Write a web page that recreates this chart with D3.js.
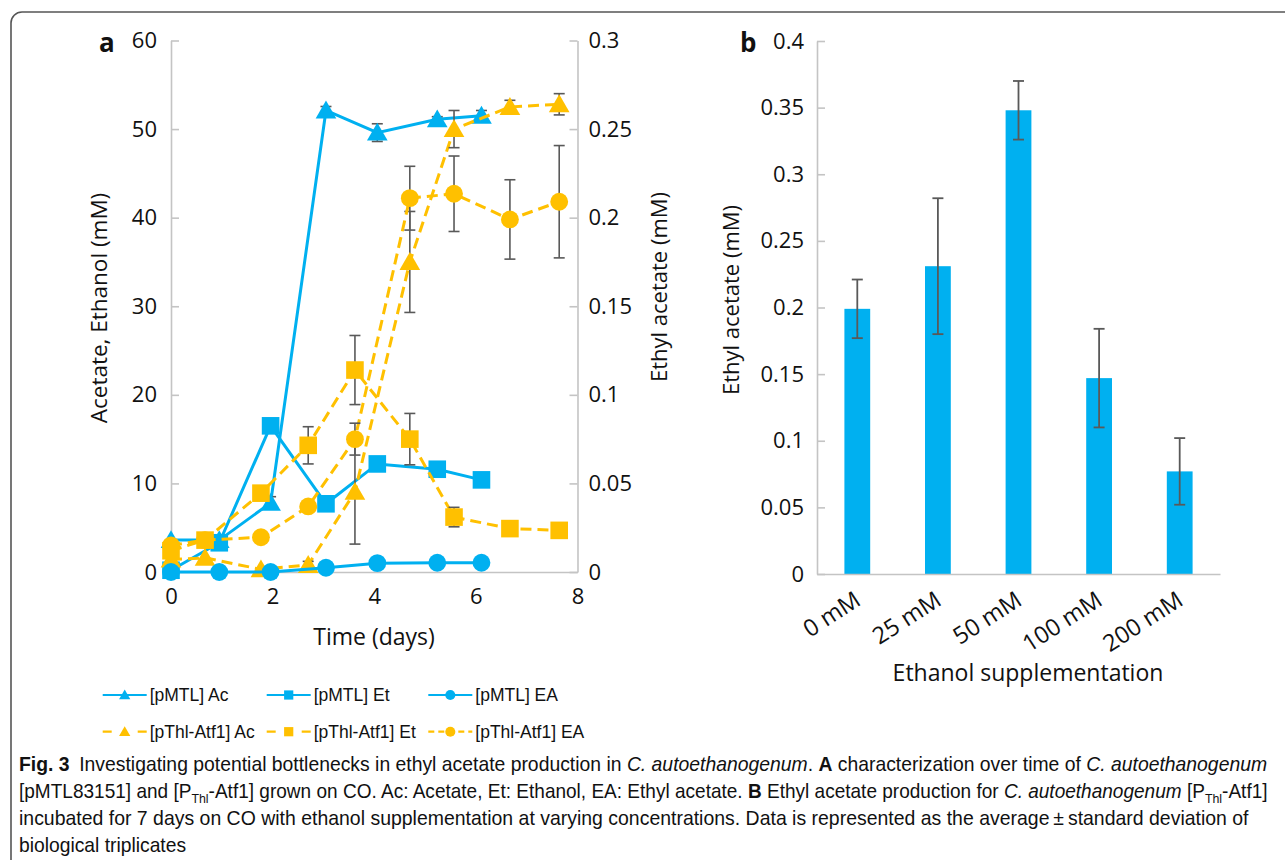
<!DOCTYPE html>
<html>
<head>
<meta charset="utf-8">
<script src="https://cdn.jsdelivr.net/npm/d3@7"></script>
<style>
  body { margin: 0; background: #fff; }
  svg { display: block; }
  text { fill: #111; }
</style>
</head>
<body>
<svg id="fig" width="1285" height="860" font-family="'Open Sans', sans-serif"></svg>
<script>
// panel a: time course, days on x
let pmtlDays = [0, 0.95, 1.96, 3.05, 4.06, 5.24, 6.11]
let pmtlAc = [3.6, 3.6, 7.8, 52.1, 49.6, 51.1, 51.5]
let pmtlAcErr = [0, 0, 0.7, 0.45, 1.0, 0.3, 0.6]
let pmtlEt = [0.2, 3.3, 16.5, 7.7, 12.2, 11.6, 10.4]
let pmtlEtErr = [0, 0, 0, 0, 0, 0, 0]
let pmtlEA = [0, 0, 0, 0.0024, 0.005, 0.0052, 0.0052]
let pmtlEAErr = [0, 0, 0, 0, 0, 0, 0]

let pthlDays = [0, 0.67, 1.77, 2.7, 3.62, 4.7, 5.57, 6.67, 7.64]
let pthlAc = [1.4, 1.6, 0.3, 0.8, 9.05, 35.0, 50.0, 52.5, 52.8]
let pthlAcErr = [0, 0, 0, 0.4, 5.9, 5.7, 2.1, 0.75, 1.2]
let pthlEt = [2.4, 3.6, 8.9, 14.3, 22.8, 15.0, 6.2, 4.9, 4.7]
let pthlEtErr = [0, 0, 0.5, 2.1, 3.9, 2.9, 1.1, 0, 0]
let pthlEA = [0.015, 0.018, 0.0196, 0.037, 0.075, 0.211, 0.2135, 0.199, 0.209]
let pthlEAErr = [0, 0, 0, 0, 0.009, 0.018, 0.0213, 0.0224, 0.0317]

let leftTicks = [0, 10, 20, 30, 40, 50, 60]
let rightTicks = [0, 0.05, 0.1, 0.15, 0.2, 0.25, 0.3]
let dayTicks = [0, 2, 4, 6, 8]

let legendLabels = ['[pMTL] Ac', '[pMTL] Et', '[pMTL] EA', '[pThl-Atf1] Ac', '[pThl-Atf1] Et', '[pThl-Atf1] EA']

// panel b: bars
let concentrations = ['0 mM', '25 mM', '50 mM', '100 mM', '200 mM']
let eaMean = [0.199, 0.231, 0.348, 0.147, 0.077]
let eaSd = [0.022, 0.051, 0.022, 0.037, 0.025]
let barTicks = [0, 0.05, 0.1, 0.15, 0.2, 0.25, 0.3, 0.35, 0.4]

let blue = '#00B0F0'
let yellow = '#FFC000'
let errGrey = '#595959'
let axisGrey = '#C4C4C4'

var svg = d3.select('#fig')

// figure frame
svg
  .append('rect')
  .attr('x', 11)
  .attr('y', 12)
  .attr('width', 1320)
  .attr('height', 900)
  .attr('rx', 11)
  .attr('fill', 'none')
  .attr('stroke', '#555')
  .attr('stroke-width', 1.6)

let xA = d3.scaleLinear().domain([0, 8]).range([171, 577.5])
let yL = d3.scaleLinear().domain([0, 60]).range([572, 40.5])
let yR = d3.scaleLinear().domain([0, 0.3]).range([572, 40.5])

let fmt = d => String(+d.toFixed(2))

function styleAxis(g, size) {
  g.select('.domain').attr('stroke', axisGrey).attr('stroke-width', 1.6)
  g.selectAll('.tick line').attr('stroke', axisGrey).attr('stroke-width', 1.6)
  g.selectAll('.tick text')
    .attr('font-size', size)
    .attr('font-family', "'Open Sans', sans-serif")
}

svg
  .append('g')
  .attr('transform', 'translate(171,0)')
  .call(d3.axisLeft(yL).tickValues(leftTicks).tickSizeInner(-8).tickSizeOuter(0).tickPadding(14))
  .call(g => styleAxis(g, 22))

svg
  .append('g')
  .attr('transform', 'translate(577.5,0)')
  .call(d3.axisRight(yR).tickValues(rightTicks).tickFormat(fmt).tickSizeInner(-8).tickSizeOuter(0).tickPadding(11))
  .call(g => styleAxis(g, 22))

svg
  .append('g')
  .attr('transform', 'translate(0,572)')
  .call(d3.axisBottom(xA).tickValues(dayTicks).tickSize(0).tickPadding(16))
  .call(g => styleAxis(g, 22))

// axis titles a
svg
  .append('text')
  .text('Time (days)')
  .attr('x', 374)
  .attr('y', 645)
  .attr('text-anchor', 'middle')
  .attr('font-size', 23)

svg
  .append('text')
  .text('Acetate, Ethanol (mM)')
  .attr('transform', 'translate(107,308) rotate(-90)')
  .attr('text-anchor', 'middle')
  .attr('font-size', 22.5)

svg
  .append('text')
  .text('Ethyl acetate (mM)')
  .attr('transform', 'translate(667,287) rotate(-90)')
  .attr('text-anchor', 'middle')
  .attr('font-size', 22)

svg
  .append('text')
  .text('a')
  .attr('x', 99)
  .attr('y', 52)
  .attr('font-size', 26)
  .attr('font-weight', 'bold')

let series = [
  { days: pmtlDays, vals: pmtlAc, err: pmtlAcErr, y: yL, color: blue, dash: null, type: d3.symbolTriangle, size: 185 },
  { days: pmtlDays, vals: pmtlEt, err: pmtlEtErr, y: yL, color: blue, dash: null, type: d3.symbolSquare, size: 310 },
  { days: pthlDays, vals: pthlAc, err: pthlAcErr, y: yL, color: yellow, dash: '11,6', type: d3.symbolTriangle, size: 185 },
  { days: pthlDays, vals: pthlEt, err: pthlEtErr, y: yL, color: yellow, dash: '11,6', type: d3.symbolSquare, size: 310 },
  { days: pmtlDays, vals: pmtlEA, err: pmtlEAErr, y: yR, color: blue, dash: null, type: d3.symbolCircle, size: 250 },
  { days: pthlDays, vals: pthlEA, err: pthlEAErr, y: yR, color: yellow, dash: '11,6', type: d3.symbolCircle, size: 250 }
]

series.forEach(s => {
  let pts = s.days.map((d, i) => ({ day: d, value: s.vals[i], err: s.err[i] }))
  let line = d3
    .line()
    .x(d => xA(d.day))
    .y(d => s.y(d.value))

  let g = svg.append('g')

  g.append('path')
    .datum(pts)
    .attr('d', line)
    .attr('fill', 'none')
    .attr('stroke', s.color)
    .attr('stroke-width', 3)
    .attr('stroke-dasharray', s.dash)

  // error bars sit under the markers
  let bars = g
    .selectAll('.err')
    .data(pts.filter(d => d.err > 0))
    .enter()
    .append('g')
    .attr('stroke', errGrey)
    .attr('stroke-width', 1.6)

  bars
    .append('line')
    .attr('x1', d => xA(d.day))
    .attr('x2', d => xA(d.day))
    .attr('y1', d => s.y(d.value - d.err))
    .attr('y2', d => s.y(d.value + d.err))

  bars
    .append('line')
    .attr('x1', d => xA(d.day) - 5.5)
    .attr('x2', d => xA(d.day) + 5.5)
    .attr('y1', d => s.y(d.value - d.err))
    .attr('y2', d => s.y(d.value - d.err))

  bars
    .append('line')
    .attr('x1', d => xA(d.day) - 5.5)
    .attr('x2', d => xA(d.day) + 5.5)
    .attr('y1', d => s.y(d.value + d.err))
    .attr('y2', d => s.y(d.value + d.err))

  g.selectAll('.marker')
    .data(pts)
    .enter()
    .append('path')
    .attr('d', d3.symbol().type(s.type).size(s.size))
    .attr('transform', d => {
      let shift = s.type === d3.symbolTriangle ? 2 : 0
      return `translate(${xA(d.day)},${s.y(d.value) + shift})`
    })
    .attr('fill', s.color)
})

// legend
let legendCols = [102.7, 266.7, 428.3]
let legendRows = [695, 731.7]
let legendTypes = [d3.symbolTriangle, d3.symbolSquare, d3.symbolCircle]
let legendSizes = [55, 85, 80]
let legendDash = [['none', 'none', 'none'], ['9,26,9', '9,26,9', '6,4']]

legendLabels.forEach((label, i) => {
  let row = Math.floor(i / 3)
  let col = i % 3
  let x0 = legendCols[col]
  let y0 = legendRows[row]
  let color = row === 0 ? blue : yellow
  let g = svg.append('g')
  g.append('line')
    .attr('x1', x0)
    .attr('x2', x0 + 44)
    .attr('y1', y0)
    .attr('y2', y0)
    .attr('stroke', color)
    .attr('stroke-width', 2.2)
    .attr('stroke-dasharray', legendDash[row][col])
  g.append('path')
    .attr('d', d3.symbol().type(legendTypes[col]).size(legendSizes[col]))
    .attr('transform', `translate(${x0 + 22},${y0 + (col === 0 ? 1 : 0)})`)
    .attr('fill', color)
  g.append('text')
    .text(label)
    .attr('x', x0 + 47)
    .attr('y', y0 + 6)
    .attr('font-size', 17.5)
    .attr('font-family', "'Liberation Sans', Arial, sans-serif")
})

// panel b
let xB = d3
  .scaleBand()
  .domain(concentrations)
  .range([817, 1220])
  .paddingInner(0.68)
  .paddingOuter(0.34)
let yB = d3.scaleLinear().domain([0, 0.4]).range([574, 41])

svg
  .append('g')
  .attr('transform', 'translate(817,0)')
  .call(d3.axisLeft(yB).tickValues(barTicks).tickFormat(fmt).tickSizeInner(-8).tickSizeOuter(0).tickPadding(13))
  .call(g => styleAxis(g, 22))

svg
  .append('g')
  .selectAll('rect')
  .data(concentrations)
  .enter()
  .append('rect')
  .attr('x', d => xB(d))
  .attr('width', xB.bandwidth())
  .attr('y', (d, i) => yB(eaMean[i]))
  .attr('height', (d, i) => yB(0) - yB(eaMean[i]))
  .attr('fill', blue)

svg
  .append('g')
  .attr('transform', 'translate(0,574)')
  .call(d3.axisBottom(xB).tickSize(0).tickFormat(''))
  .call(g => styleAxis(g, 22))

let barErr = svg
  .append('g')
  .selectAll('g')
  .data(concentrations)
  .enter()
  .append('g')
  .attr('stroke', errGrey)
  .attr('stroke-width', 1.8)

let cx = d => xB(d) + xB.bandwidth() / 2

barErr
  .append('line')
  .attr('x1', cx)
  .attr('x2', cx)
  .attr('y1', (d, i) => yB(eaMean[i] - eaSd[i]))
  .attr('y2', (d, i) => yB(eaMean[i] + eaSd[i]))

barErr
  .append('line')
  .attr('x1', d => cx(d) - 5.5)
  .attr('x2', d => cx(d) + 5.5)
  .attr('y1', (d, i) => yB(eaMean[i] - eaSd[i]))
  .attr('y2', (d, i) => yB(eaMean[i] - eaSd[i]))

barErr
  .append('line')
  .attr('x1', d => cx(d) - 5.5)
  .attr('x2', d => cx(d) + 5.5)
  .attr('y1', (d, i) => yB(eaMean[i] + eaSd[i]))
  .attr('y2', (d, i) => yB(eaMean[i] + eaSd[i]))

svg
  .append('g')
  .selectAll('text')
  .data(concentrations)
  .enter()
  .append('text')
  .text(d => d)
  .attr('transform', d => `translate(${cx(d) + 5},604) rotate(-33)`)
  .attr('text-anchor', 'end')
  .attr('font-size', 23.5)

svg
  .append('text')
  .text('Ethanol supplementation')
  .attr('x', 1028)
  .attr('y', 681)
  .attr('text-anchor', 'middle')
  .attr('font-size', 23)

svg
  .append('text')
  .text('Ethyl acetate (mM)')
  .attr('transform', 'translate(739,300) rotate(-90)')
  .attr('text-anchor', 'middle')
  .attr('font-size', 22)

svg
  .append('text')
  .text('b')
  .attr('x', 740)
  .attr('y', 52)
  .attr('font-size', 26)
  .attr('font-weight', 'bold')

// caption, squeezed to the narrow journal face
let caption = [
  { y: 771, width: 1249, parts: [
    { t: 'Fig. 3', b: true }, { t: '\u2002Investigating potential bottlenecks in ethyl acetate production in ' },
    { t: 'C. autoethanogenum', i: true }, { t: '. ' }, { t: 'A', b: true },
    { t: ' characterization over time of ' }, { t: 'C. autoethanogenum', i: true }
  ] },
  { y: 798, width: 1249, parts: [
    { t: '[pMTL83151] and [P' }, { t: 'Thl', sub: true }, { t: '-Atf1] grown on CO. Ac: Acetate, Et: Ethanol, EA: Ethyl acetate. ' },
    { t: 'B', b: true }, { t: ' Ethyl acetate production for ' }, { t: 'C. autoethanogenum', i: true },
    { t: ' [P' }, { t: 'Thl', sub: true }, { t: '-Atf1]' }
  ] },
  { y: 825, width: 1231, parts: [
    { t: 'incubated for 7 days on CO with ethanol supplementation at varying concentrations. Data is represented as the average\u2009\u00b1\u2009standard deviation of' }
  ] },
  { y: 852, width: null, parts: [{ t: 'biological triplicates' }] }
]

let scales = []
caption.forEach(line => {
  let t = svg
    .append('text')
    .attr('transform', `translate(19,${line.y})`)
    .attr('font-size', 20)
    .attr('font-family', "'Liberation Sans', Arial, sans-serif")
  line.parts.forEach((p, i) => {
    let prevSub = i > 0 && line.parts[i - 1].sub
    t.append('tspan')
      .text(p.t)
      .attr('font-weight', p.b ? 'bold' : null)
      .attr('font-style', p.i ? 'italic' : null)
      .attr('font-size', p.sub ? 13 : null)
      .attr('dy', p.sub ? 5 : prevSub ? -5 : null)
  })
  let w = t.node().getBBox().width
  let k = line.width ? line.width / w : d3.mean(scales)
  scales.push(k)
  t.attr('transform', `translate(19,${line.y}) scale(${k},1)`)
})
</script>
</body>
</html>
